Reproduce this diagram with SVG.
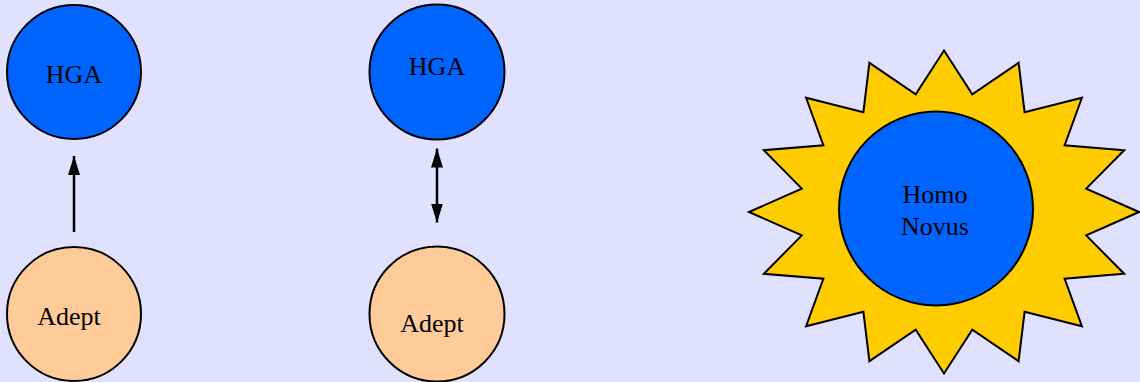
<svg xmlns="http://www.w3.org/2000/svg" width="1140" height="382" viewBox="0 0 1140 382">
<style>
.blue{fill:#0064ff;stroke:#000;stroke-width:2}
.peach{fill:#ffcc99;stroke:#000;stroke-width:2}
.star{fill:#ffcc00;stroke:#000;stroke-width:2;stroke-linejoin:miter}
.lbl{font-family:"Liberation Serif","Times New Roman",serif;font-size:26px;fill:#000}
.conn{stroke:#000;stroke-width:2.5;fill:none}
</style>
<defs>
<marker id="ah" viewBox="0 0 19 12" refX="19" refY="6" markerWidth="19" markerHeight="12" markerUnits="userSpaceOnUse" orient="auto-start-reverse">
<path d="M0,0 L19,6 L0,12 Z" fill="#000"/>
</marker>
</defs>
<rect x="0" y="0" width="1140" height="382" fill="#e0e0ff"/>
<g id="hga1">
<circle class="blue" cx="74" cy="72" r="67"/>
<text class="lbl" x="74" y="83" text-anchor="middle">HGA</text>
</g>
<g id="adept1">
<circle class="peach" cx="74" cy="314" r="67"/>
<text class="lbl" x="69" y="325" text-anchor="middle">Adept</text>
</g>
<g id="hga2">
<circle class="blue" cx="437" cy="72" r="67.5"/>
<text class="lbl" x="437" y="75" text-anchor="middle">HGA</text>
</g>
<g id="adept2">
<circle class="peach" cx="437" cy="314" r="67.5"/>
<text class="lbl" x="432" y="332" text-anchor="middle">Adept</text>
</g>
<g id="homonovus">
<polygon class="star" points="944,50.5 972.3,94.3 1018.6,62.8 1024.6,112.2 1081.9,97.8 1064.6,145.3 1124.2,150.2 1086.2,188.6 1139,212 1086.2,235.4 1124.2,273.8 1064.6,278.7 1081.9,326.2 1024.6,311.8 1018.6,361.2 972.3,329.7 944,373.5 915.7,329.7 869.4,361.2 863.4,311.8 806.1,326.2 823.4,278.7 763.8,273.8 801.8,235.4 749,212 801.8,188.6 763.8,150.2 823.4,145.3 806.1,97.8 863.4,112.2 869.4,62.8 915.7,94.3"/>
<circle class="blue" cx="936" cy="208.5" r="97"/>
<text class="lbl" x="935" y="203" text-anchor="middle">Homo</text>
<text class="lbl" x="935" y="235" text-anchor="middle">Novus</text>
</g>
<g id="connectors">
<line class="conn" x1="74" y1="232" x2="74" y2="156" marker-end="url(#ah)"/>
<line class="conn" x1="437" y1="148.5" x2="437" y2="222.5" marker-start="url(#ah)" marker-end="url(#ah)"/>
</g>
</svg>
